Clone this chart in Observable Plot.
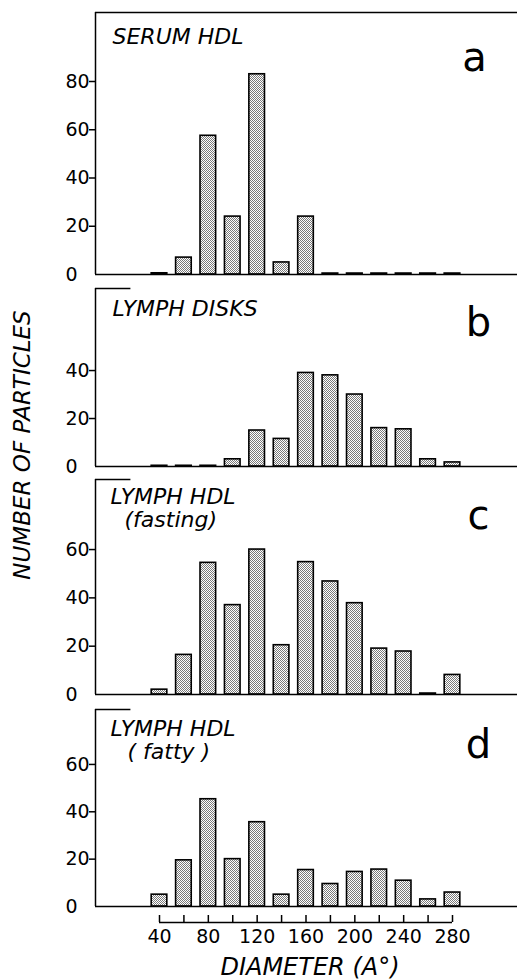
<!DOCTYPE html>
<html>
<head>
<meta charset="utf-8">
<script src="https://cdn.jsdelivr.net/npm/d3@7"></script>
<script src="https://cdn.jsdelivr.net/npm/@observablehq/plot@0.6"></script>
<style>
  body { margin: 0; background: #fff; }
  #chart { position: relative; width: 517px; height: 980px; font-family: "DejaVu Sans", sans-serif; color: #000; overflow: hidden; }
  .panel { position: absolute; left: 0; }
  #ytitle { position: absolute; left: 22px; top: 445px; transform: translate(-50%, -50%) rotate(-90deg);
            font-style: italic; font-size: 23px; line-height: 1; white-space: nowrap; }
  #xtitle { position: absolute; left: 310px; top: 955px; transform: translateX(-50%);
            font-style: italic; font-size: 24px; line-height: 1; white-space: nowrap; }
</style>
</head>
<body>
<div id="chart">
  <svg width="0" height="0" style="position:absolute">
    <defs>
      <pattern id="stipple" width="2" height="2" patternUnits="userSpaceOnUse">
        <rect width="2" height="2" fill="#ffffff"></rect>
        <rect x="0" y="0" width="1" height="1" fill="#7a7a7a"></rect>
        <rect x="1" y="1" width="1" height="1" fill="#7a7a7a"></rect>
      </pattern>
    </defs>
  </svg>
</div>
<script>
// ---- data ----
const diameters = [40, 60, 80, 100, 120, 140, 160, 180, 200, 220, 240, 260, 280];
const xTickLabels = [40, 80, 120, 160, 200, 240, 280];
const serumHDL     = [0.5, 7, 57.5, 24, 83, 5, 24, 0.4, 0.4, 0.4, 0.4, 0.4, 0.4];
const lymphDisks   = [0.3, 0.3, 0.3, 3, 15, 11.5, 39, 38, 30, 16, 15.5, 3, 1.7];
const lymphFasting = [2, 16.4, 54.5, 37, 60, 20.4, 54.8, 46.8, 37.8, 19, 17.8, 0.4, 8.1];
const lymphFatty   = [5, 19.5, 45.3, 20, 35.6, 5, 15.4, 9.5, 14.6, 15.6, 10.9, 3, 5.9];
const panelTitles  = [["SERUM HDL"], ["LYMPH DISKS"], ["LYMPH HDL", "(fasting)"], ["LYMPH HDL", "( fatty )"]];
const panelLetters = ["a", "b", "c", "d"];
const yTicks = [[0, 20, 40, 60, 80], [0, 20, 40], [0, 20, 40, 60], [0, 20, 40, 60]];
const yAxisTitle = "NUMBER OF PARTICLES";
const xAxisTitle = "DIAMETER (A°)";

const series = [serumHDL, lymphDisks, lymphFasting, lymphFatty];

// ---- layout ----
const W = 517, ML = 95;
const XDOM = [-12.42, 333.24];
const HALF = 6.4;
const layout = [
  {top: 0,   height: 280, mt: 12, mb: 6, ymax: 108.6, fullTop: true,  title: [[112, 31]],            letter: [474, 58]},
  {top: 280, height: 192, mt: 8,  mb: 6, ymax: 74.2,  fullTop: false, title: [[112, 27]],            letter: [478, 47]},
  {top: 472, height: 228, mt: 7,  mb: 6, ymax: 89,    fullTop: false, title: [[110, 24], [124, 47]], letter: [478, 49]},
  {top: 700, height: 212, mt: 9,  mb: 6, ymax: 83.2,  fullTop: false, title: [[110, 26], [127, 49]], letter: [478, 48]}
];
const chart = document.getElementById("chart");
const svgStyle = {overflow: "visible", background: "transparent", fontFamily: "DejaVu Sans, sans-serif", color: "black"};

layout.forEach((L, i) => {
  const data = diameters.map((d, j) => ({d, v: series[i][j]}));
  const ticks = yTicks[i];
  const marks = [
    Plot.rectY(data, {x1: r => r.d - HALF, x2: r => r.d + HALF, y: "v",
      fill: "url(#stipple)", stroke: "black", strokeWidth: 1.6}),
    Plot.ruleY([0], {stroke: "black", strokeWidth: 1.6}),
    Plot.ruleX([XDOM[0]], {stroke: "black", strokeWidth: 1.5}),
    L.fullTop
      ? Plot.ruleY([L.ymax], {stroke: "black", strokeWidth: 1.5})
      : Plot.ruleY([L.ymax], {x1: XDOM[0], x2: XDOM[0] + 29, stroke: "black", strokeWidth: 1.5}),
    Plot.axisY({ticks: ticks.filter(t => t > 0), tickSize: 6, fill: "none", label: null, strokeWidth: 1.5}),
    Plot.text(ticks, {y: d => d, text: d => String(d), frameAnchor: "left", dx: -30,
      textAnchor: "start", fontSize: 19, fill: "black"})
  ];
  panelTitles[i].forEach((line, k) => {
    const [tx, ty] = L.title[k];
    marks.push(Plot.text([line], {text: d => d, frameAnchor: "top-left", dx: tx - ML, dy: ty,
      lineAnchor: "bottom", textAnchor: "start", fontSize: 22, fontStyle: "italic", fill: "black"}));
  });
  marks.push(Plot.text([panelLetters[i]], {text: d => d, frameAnchor: "top-left",
    dx: L.letter[0] - ML, dy: L.letter[1], lineAnchor: "bottom", textAnchor: "middle",
    fontSize: 40, fill: "black"}));

  const p = Plot.plot({
    width: W, height: L.height,
    marginLeft: ML, marginRight: 0, marginTop: L.mt, marginBottom: L.mb,
    x: {domain: XDOM, axis: null},
    y: {domain: [0, L.ymax]},
    style: svgStyle,
    marks
  });
  p.classList.add("panel");
  p.style.top = L.top + "px";
  p.style.position = "absolute";
  chart.appendChild(p);
});

// bottom x-axis bracket strip
const strip = Plot.plot({
  width: W, height: 68,
  marginLeft: ML, marginRight: 0, marginTop: 3, marginBottom: 58,
  x: {domain: XDOM, axis: null},
  y: {domain: [0, 1], axis: null},
  style: svgStyle,
  marks: [
    Plot.ruleX(diameters, {y1: 0, y2: 1, stroke: "black", strokeWidth: 1.5}),
    Plot.ruleY([0], {x1: diameters[0], x2: diameters[diameters.length - 1], stroke: "black", strokeWidth: 1.5}),
    Plot.text(xTickLabels, {x: d => d, text: d => String(d), frameAnchor: "bottom", dy: 7,
      lineAnchor: "top", textAnchor: "middle", fontSize: 19, fill: "black"})
  ]
});
strip.style.position = "absolute";
strip.style.left = "0px";
strip.style.top = "912px";
chart.appendChild(strip);

const yt = document.createElement("div");
yt.id = "ytitle"; yt.textContent = yAxisTitle; chart.appendChild(yt);
const xt = document.createElement("div");
xt.id = "xtitle"; xt.textContent = xAxisTitle; chart.appendChild(xt);
</script>
</body>
</html>
